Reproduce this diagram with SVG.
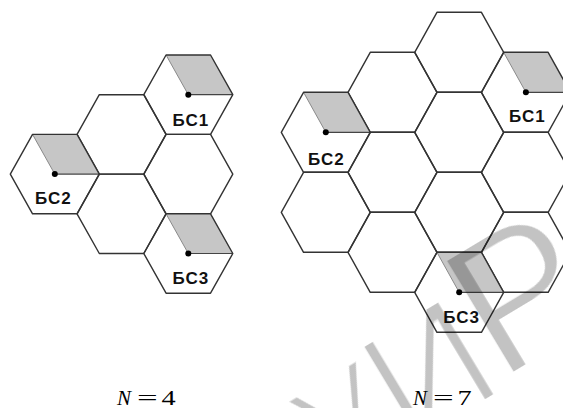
<svg xmlns="http://www.w3.org/2000/svg" width="563" height="408" viewBox="0 0 563 408">
  <style>
    .cell { fill: none; stroke: #333; stroke-width: 1.4; stroke-linejoin: round; }
    .sector { fill: #c6c6c6; stroke: none; }
    .edge { stroke: #8a8a8a; stroke-width: 1; fill: none; }
    .radius { stroke: #444; stroke-width: 1.2; fill: none; }
    .bs { fill: #000; }
    .lbl { font-family: "Liberation Sans", Arial, sans-serif; font-weight: bold; font-size: 17px; letter-spacing: 1px; fill: #111; text-anchor: middle; }
    .cap { font-family: "Liberation Serif", "Times New Roman", serif; font-size: 21px; fill: #000; }
    .wm { font-family: "Liberation Sans", Arial, sans-serif; fill: #000; }
  </style>
  <defs>
    <!-- flat-top hexagonal cells -->
    <polygon id="hexL" points="-44.5,0 -22.25,-39.7 22.25,-39.7 44.5,0 22.25,39.7 -22.25,39.7"/>
    <polygon id="hexR" points="-44.5,0 -22.25,-40 22.25,-40 44.5,0 22.25,40 -22.25,40"/>
    <!-- 120 degree antenna sector -->
    <g id="secL">
      <path class="sector" d="M-22.25,-39.7 H22.25 L44.5,0 H0 Z"/>
      <line class="edge" x1="-22.25" y1="-39.7" x2="0" y2="0"/>
      <line class="radius" x1="0" y1="0" x2="44.5" y2="0"/>
    </g>
    <g id="secR">
      <path class="sector" d="M-22.25,-40 H22.25 L44.5,0 H0 Z"/>
      <line class="edge" x1="-22.25" y1="-40" x2="0" y2="0"/>
      <line class="radius" x1="0" y1="0" x2="44.5" y2="0"/>
    </g>
    <filter id="thin" x="-10%" y="-10%" width="120%" height="120%">
      <feMorphology operator="erode" radius="1.8"/>
    </filter>
  </defs>

  <!-- cluster N = 4 -->
  <g id="cluster4">
    <g id="c4-cell-a" transform="translate(121.55,134.4)"><use href="#hexL" class="cell"/></g>
    <g id="c4-cell-b" transform="translate(188.3,174.1)"><use href="#hexL" class="cell"/></g>
    <g id="c4-cell-c" transform="translate(121.55,213.8)"><use href="#hexL" class="cell"/></g>
    <g id="c4-bs1" transform="translate(188.3,94.7)">
      <use href="#secL"/><use href="#hexL" class="cell"/>
      <circle class="bs" r="3"/><text class="lbl" x="2.5" y="31">БС1</text>
    </g>
    <g id="c4-bs2" transform="translate(54.8,174.1)">
      <use href="#secL"/><use href="#hexL" class="cell"/>
      <circle class="bs" r="3"/><text class="lbl" x="-1.5" y="30">БС2</text>
    </g>
    <g id="c4-bs3" transform="translate(188.3,253.5)">
      <use href="#secL"/><use href="#hexL" class="cell"/>
      <circle class="bs" r="3"/><text class="lbl" x="2.5" y="30">БС3</text>
    </g>
  </g>

  <!-- cluster N = 7 -->
  <g id="cluster7">
    <g id="c7-cell-1" transform="translate(325.8,212.3)"><use href="#hexR" class="cell"/></g>
    <g id="c7-cell-2" transform="translate(392.5,92.3)"><use href="#hexR" class="cell"/></g>
    <g id="c7-cell-3" transform="translate(392.5,172.3)"><use href="#hexR" class="cell"/></g>
    <g id="c7-cell-4" transform="translate(392.5,252.3)"><use href="#hexR" class="cell"/></g>
    <g id="c7-cell-5" transform="translate(459.2,52.3)"><use href="#hexR" class="cell"/></g>
    <g id="c7-cell-6" transform="translate(459.2,132.3)"><use href="#hexR" class="cell"/></g>
    <g id="c7-cell-7" transform="translate(459.2,212.3)"><use href="#hexR" class="cell"/></g>
    <g id="c7-cell-8" transform="translate(525.9,172.3)"><use href="#hexR" class="cell"/></g>
    <g id="c7-cell-9" transform="translate(525.9,252.3)"><use href="#hexR" class="cell"/></g>
    <g id="c7-bs1" transform="translate(525.9,92.3)">
      <use href="#secR"/><use href="#hexR" class="cell"/>
      <circle class="bs" r="3"/><text class="lbl" x="1.5" y="30">БС1</text>
    </g>
    <g id="c7-bs2" transform="translate(325.8,132.3)">
      <use href="#secR"/><use href="#hexR" class="cell"/>
      <circle class="bs" r="3"/><text class="lbl" x="0.5" y="33">БС2</text>
    </g>
    <g id="c7-bs3" transform="translate(459.2,292.3)">
      <use href="#secR"/><use href="#hexR" class="cell"/>
      <circle class="bs" r="3"/><text class="lbl" x="2.5" y="31">БС3</text>
    </g>
  </g>

  <!-- connectors: none, cells share their borders -->
  <g id="connectors"/>

  <!-- captions -->
  <g id="caption4" class="cap">
    <text x="117" y="404.5" font-style="italic">N</text>
    <text transform="translate(137,404.5) scale(1.75,1)">=</text>
    <text transform="translate(161.5,404.5) scale(1.35,1)">4</text>
  </g>
  <g id="caption7" class="cap">
    <text x="413" y="404.5" font-style="italic">N</text>
    <text transform="translate(433,404.5) scale(1.75,1)">=</text>
    <text transform="translate(457.5,404.5) scale(1.35,1)">7</text>
  </g>

  <!-- light watermark lettering, growing along a rising line -->
  <g id="watermark" transform="rotate(-31)" filter="url(#thin)" opacity="0.23">
    <text class="wm" x="33" y="588" font-size="140">У</text>
    <text class="wm" x="118.4" y="594" font-size="162">И</text>
    <text class="wm" x="231" y="584.5" font-size="193">Р</text>
  </g>
</svg>
